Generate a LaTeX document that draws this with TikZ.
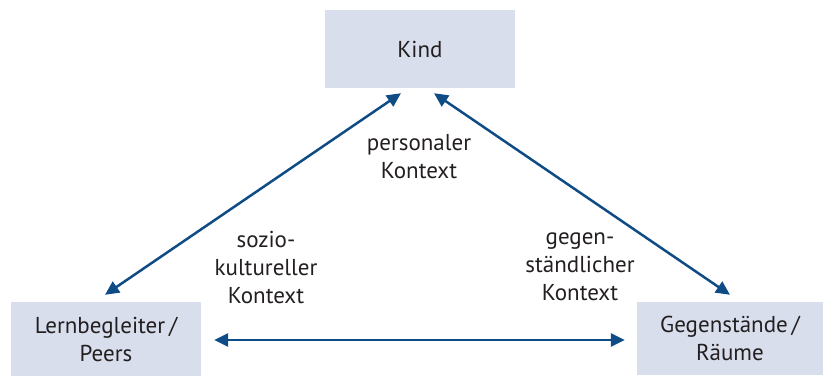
\documentclass[tikz,border=0pt]{standalone}
\usepackage{fontspec}
\setmainfont{PT Sans}
\usetikzlibrary{arrows.meta,calc}
\definecolor{boxfill}{HTML}{D9DEED}
\definecolor{arrowblue}{HTML}{0F4C85}
\definecolor{txt}{HTML}{231F20}
\tikzset{
  box/.style={fill=boxfill, draw=none, inner sep=0pt, align=center, text=txt, font=\fontsize{23}{28}\selectfont},
  lbl/.style={align=center, text=txt, inner sep=0pt, font=\fontsize{23}{28}\selectfont},
  conn/.style={draw=arrowblue, line width=2.5pt, {Triangle[length=14pt,width=13pt]}-{Triangle[length=14pt,width=13pt]}}
}
\begin{document}
\begin{tikzpicture}[x=1pt,y=-1pt]
\useasboundingbox (0,0) rectangle (823,377);
\node[box, minimum width=190pt, minimum height=78pt] (kind) at (420,49) {Kind};
\node[box, minimum width=190pt, minimum height=74pt] (lern) at (106,339) {Lernbegleiter\,/\\Peers};
\node[box, minimum width=186pt, minimum height=73pt] (gegen) at (730,338.5) {Gegenstände\,/\\Räume};
\node[lbl] (pers) at (419,157) {personaler\\Kontext};
\node[lbl] (sozio) at (266,267) {sozio-\\kultureller\\Kontext};
\node[lbl] (geg) at (580,267) {gegen-\\ständlicher\\Kontext};
\draw[conn] ($(kind.south)+(-19,5)$) -- ($(lern.north)+(-1,-7)$);
\draw[conn] ($(kind.south)+(14,5)$) -- ($(gegen.north)+(0,-7)$);
\draw[conn] ($(lern.east)+(13,1)$) -- ($(gegen.west)+(-12,1.5)$);
\end{tikzpicture}
\end{document}
